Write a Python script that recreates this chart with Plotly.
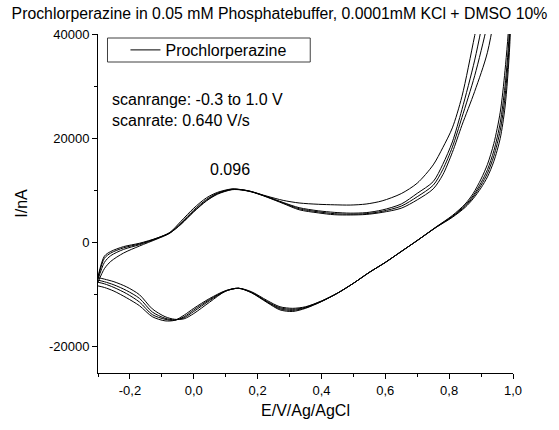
import plotly.graph_objects as go

# Cyclic voltammogram of prochlorperazine, four consecutive cycles.
# Forward (anodic) scan potentials, V vs Ag/AgCl
E_fwd = [-0.30, -0.28, -0.26, -0.22, -0.17, -0.115, -0.075, -0.04, 0.00, 0.04,
         0.075, 0.12, 0.15, 0.18, 0.23, 0.28, 0.33, 0.39, 0.44, 0.49,
         0.54, 0.59, 0.65, 0.70, 0.75, 0.78, 0.81, 0.84, 0.88, 0.92,
         0.96, 1.00]

# Forward scan currents, nA
I_fwd_1 = [-7600, -5000, -3600, -2000, -650, 700, 1800, 3600, 6000, 8100,
           9400, 10200, 10150, 9800, 8900, 8100, 7600, 7350, 7250, 7200,
           7400, 8000, 9400, 11400, 14900, 18200, 22000, 28000, 39700, 52000,
           65000, 80000]
I_fwd_2 = [-7100, -3800, -2500, -1300, -400, 800, 1850, 3500, 5900, 8000,
           9300, 10150, 10100, 9750, 8800, 7700, 6700, 6100, 5800, 5650,
           5750, 6250, 7400, 9450, 11700, 15000, 19300, 25500, 35000, 47000,
           60000, 75000]
I_fwd_3 = [-6800, -3000, -2000, -1000, -250, 850, 1900, 3800, 6250, 8300,
           9500, 10250, 10100, 9750, 8750, 7600, 6500, 5900, 5550, 5450,
           5550, 6000, 7000, 8800, 11000, 14000, 18300, 24000, 32000, 42000,
           55000, 70000]
I_fwd_4 = [-6500, -2600, -1700, -770, -120, 880, 1950, 4100, 6600, 8600,
           9650, 10300, 10150, 9800, 8700, 7500, 6300, 5700, 5350, 5300,
           5400, 5800, 6600, 8200, 10300, 13000, 17300, 22500, 29000, 36500,
           50000, 65000]

# Reverse (cathodic) scan potentials, V vs Ag/AgCl
E_rev = [1.00, 0.99, 0.975, 0.96, 0.94, 0.92, 0.90, 0.875, 0.85, 0.81,
         0.76, 0.70, 0.65, 0.60, 0.55, 0.50, 0.45, 0.40, 0.35, 0.31,
         0.27, 0.23, 0.18, 0.14, 0.10, 0.05, 0.00, -0.03, -0.06, -0.09,
         -0.13, -0.17, -0.21, -0.25, -0.28, -0.30]

# Reverse scan currents, nA
I_rev_1 = [80000, 45000, 33000, 25000, 19000, 15000, 12200, 9400, 7400, 5200,
           3050, 400, -1700, -3800, -5700, -7800, -9700, -11200, -12300, -12600,
           -12300, -11100, -9400, -8750, -9300, -11400, -13600, -14600, -14700, -14200,
           -12700, -10000, -8500, -7500, -7000, -6700]
I_rev_2 = [75000, 42000, 30000, 23000, 17600, 14000, 11500, 9000, 7150, 5050,
           3000, 400, -1700, -3800, -5700, -7800, -9700, -11200, -12400, -12800,
           -12500, -11300, -9500, -8750, -9300, -11100, -13200, -14400, -14800, -14500,
           -13300, -10700, -9200, -8100, -7500, -7200]
I_rev_3 = [70000, 40000, 28000, 21500, 16600, 13300, 11000, 8700, 6950, 4950,
           2980, 400, -1700, -3800, -5700, -7800, -9700, -11300, -12500, -13000,
           -12700, -11400, -9550, -8750, -9250, -10900, -12900, -14200, -14900, -14700,
           -13800, -11400, -9800, -8600, -7900, -7600]
I_rev_4 = [65000, 38000, 26000, 20000, 15600, 12600, 10500, 8400, 6750, 4850,
           2950, 400, -1700, -3800, -5700, -7800, -9700, -11300, -12600, -13200,
           -12900, -11500, -9600, -8750, -9200, -10700, -12600, -13900, -14900, -15000,
           -14200, -12100, -10600, -9300, -8600, -8300]

cycles = [
    (I_fwd_1, I_rev_1),
    (I_fwd_2, I_rev_2),
    (I_fwd_3, I_rev_3),
    (I_fwd_4, I_rev_4),
]

x_ticks = [-0.2, 0.0, 0.2, 0.4, 0.6, 0.8, 1.0]
x_ticktext = ["-0,2", "0,0", "0,2", "0,4", "0,6", "0,8", "1,0"]
y_ticks = [-20000, 0, 20000, 40000]
y_ticktext = ["-20000", "0", "20000", "40000"]

FONT = "Liberation Sans, Arial, sans-serif"

fig = go.Figure()
for k, (i_f, i_r) in enumerate(cycles):
    fig.add_trace(go.Scatter(
        x=E_fwd + E_rev,
        y=i_f + i_r,
        mode="lines",
        line=dict(color="black", width=1, shape="spline", smoothing=0.8),
        name="Prochlorperazine",
        showlegend=(k == 0),
    ))

# plot-area geometry in pixels
L, R, T, B = 97.5, 513.0, 34.0, 373.0
W, H = 559, 430


def px_x(p):
    return (p - L) / (R - L)


def px_y(p):
    return (B - p) / (B - T)


fig.update_layout(
    width=W, height=H,
    margin=dict(l=L, r=W - R, t=T, b=H - B, pad=0),
    paper_bgcolor="white", plot_bgcolor="white",
    font=dict(family=FONT, size=13, color="black"),
    title=dict(
        text="Prochlorperazine in 0.05 mM Phosphatebuffer, 0.0001mM KCl + DMSO 10%",
        x=0.5, xref="container", xanchor="center",
        y=1 - 13 / H, yref="container", yanchor="middle",
        font=dict(family=FONT, size=15.8, color="black"),
        pad=dict(t=0, b=0, l=0, r=0),
    ),
    showlegend=True,
    legend=dict(
        x=px_x(125), y=px_y(50), xanchor="left", yanchor="middle",
        bgcolor="rgba(0,0,0,0)", borderwidth=0,
        font=dict(family=FONT, size=16, color="black"),
    ),
    xaxis=dict(
        range=[-0.3, 1.0], tickvals=x_ticks, ticktext=x_ticktext,
        ticks="outside", ticklen=5, tickwidth=1, tickcolor="black",
        showline=True, linecolor="black", linewidth=1,
        showgrid=False, zeroline=False,
        tickfont=dict(family=FONT, size=13),
        minor=dict(tickvals=[-0.3, -0.1, 0.1, 0.3, 0.5, 0.7, 0.9],
                   ticks="outside", ticklen=3, tickcolor="black", showgrid=False),
        title=dict(text="E/V/Ag/AgCl", font=dict(family=FONT, size=16), standoff=8),
    ),
    yaxis=dict(
        range=[-25000, 40000], tickvals=y_ticks, ticktext=y_ticktext,
        ticks="outside", ticklen=5, tickwidth=1, tickcolor="black",
        showline=True, linecolor="black", linewidth=1,
        showgrid=False, zeroline=False,
        tickfont=dict(family=FONT, size=13),
        minor=dict(tickvals=[-10000, 10000, 30000],
                   ticks="outside", ticklen=3, tickcolor="black", showgrid=False),
        title=dict(text="I/nA", font=dict(family=FONT, size=16), standoff=17),
    ),
    shapes=[
        dict(type="rect", xref="paper", yref="paper",
             x0=px_x(107), x1=px_x(310), y0=px_y(62), y1=px_y(38),
             line=dict(color="#404040", width=1), fillcolor="rgba(0,0,0,0)"),
    ],
    annotations=[
        dict(text="scanrange: -0.3 to 1.0 V", xref="paper", yref="paper",
             x=px_x(110), y=px_y(100), xanchor="left", yanchor="middle",
             showarrow=False, font=dict(family=FONT, size=16)),
        dict(text="scanrate: 0.640 V/s", xref="paper", yref="paper",
             x=px_x(110), y=px_y(120), xanchor="left", yanchor="middle",
             showarrow=False, font=dict(family=FONT, size=16)),
        dict(text="0.096", xref="x", yref="y",
             x=0.115, y=14100, xanchor="center", yanchor="middle",
             showarrow=False, font=dict(family=FONT, size=16)),
    ],
)

fig.write_html("out.html")
